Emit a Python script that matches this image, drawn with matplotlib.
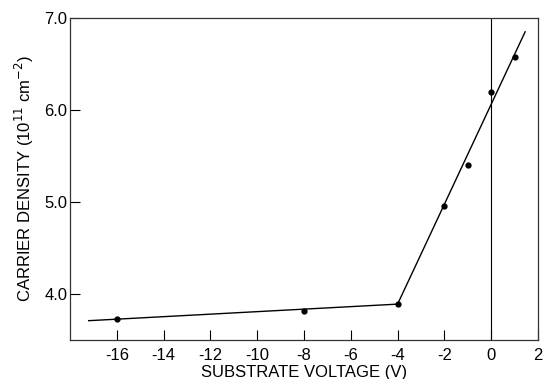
import matplotlib.pyplot as plt

# measured points
voltage = [-16, -8, -4, -2, -1, 0, 1]
density = [3.73, 3.81, 3.89, 4.96, 5.40, 6.20, 6.58]

# straight-line fit segments drawn through the data
fit_low_x = [-17.2, -4]
fit_low_y = [3.71, 3.89]
fit_high_x = [-4, 1.45]
fit_high_y = [3.89, 6.85]

xticks = [-16, -14, -12, -10, -8, -6, -4, -2, 0, 2]
yticks = [4.0, 5.0, 6.0, 7.0]

plt.rcParams['font.family'] = ['Liberation Sans', 'DejaVu Sans']

fig = plt.figure(figsize=(5.44, 3.79), dpi=100)
ax = fig.add_axes([70 / 544, 1 - 340 / 379, (538 - 70) / 544, (340 - 18) / 379])

ax.plot(fit_low_x, fit_low_y, '-', color='black', linewidth=1.0)
ax.plot(fit_high_x, fit_high_y, '-', color='black', linewidth=1.0)
ax.plot(voltage, density, 'o', color='black', markersize=3.5)
ax.axvline(0, color='black', linewidth=0.8)

ax.set_xlim(-18, 2)
ax.set_ylim(3.5, 7.0)
ax.set_xticks(xticks)
ax.set_xticklabels([str(t) for t in xticks])
ax.set_yticks(yticks)
ax.set_yticklabels([f'{t:.1f}' for t in yticks])
ax.tick_params(axis='both', direction='in', length=7, width=0.8, labelsize=12, colors='black')
ax.tick_params(axis='x', pad=6)
ax.tick_params(axis='y', pad=2)

for s in ax.spines.values():
    s.set_linewidth(0.9)
    s.set_color('#333333')

ax.set_xlabel('SUBSTRATE VOLTAGE (V)', fontsize=12, labelpad=1)
ax.set_ylabel('CARRIER DENSITY (10$^{11}$ cm$^{-2}$)', fontsize=12, labelpad=6)

fig.savefig('out.png', dpi=100)
